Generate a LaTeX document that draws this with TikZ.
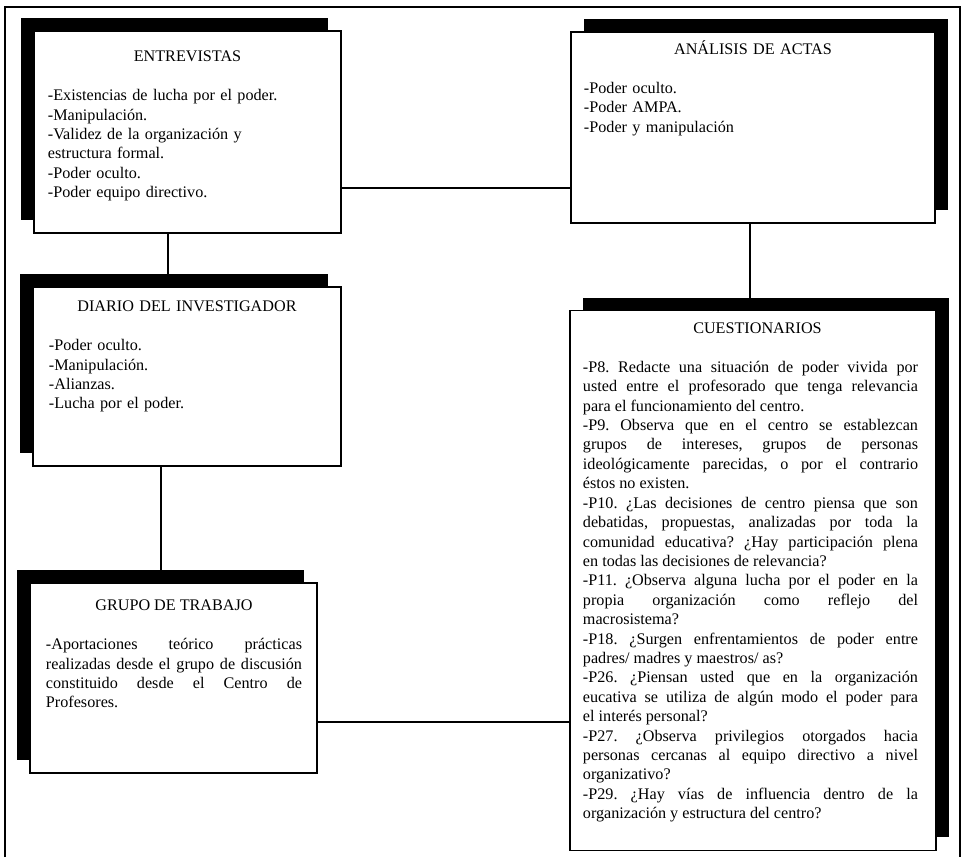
\documentclass[tikz,border=0pt]{standalone}
\usepackage{fontspec}
\setmainfont{Liberation Serif}
\usetikzlibrary{shadows}
\setlength{\parindent}{0pt}
\setlength{\parskip}{0pt}
\hyphenpenalty=10000
\exhyphenpenalty=10000
\frenchspacing

\tikzset{
  box/.style={draw, fill=white, line width=0.8pt, inner sep=0pt, outer sep=0pt},
  shadowleft/.style={general shadow={fill=black, shadow xshift=-0.325cm, shadow yshift=0.325cm}},
  shadowright/.style={general shadow={fill=black, shadow xshift=0.325cm, shadow yshift=0.325cm}},
  txt/.style={anchor=north, inner sep=0pt, font=\fontsize{11.5}{13.8}\selectfont},
  link/.style={line width=1pt}
}

\begin{document}
\begin{tikzpicture}[x=0.025cm, y=-0.025cm]
  \useasboundingbox (0,0) rectangle (962,857);
  \draw[line width=1pt] (5,857) -- (5,7) -- (960,7) -- (960,857);

  \node[box, shadowleft, minimum width=7.675cm, minimum height=5.05cm] (entrev) at (187.5,132) {};
  \node[box, shadowright, minimum width=9.1cm, minimum height=4.775cm] (actas) at (753,127.5) {};
  \node[box, shadowleft, minimum width=7.7cm, minimum height=4.475cm] (diario) at (187,376.5) {};
  \node[box, shadowleft, minimum width=7.175cm, minimum height=4.75cm] (grupo) at (173.5,678) {};
  \node[box, shadowright, minimum width=9.15cm, minimum height=13.475cm] (cuest) at (753,580.5) {};

  \node[txt, align=left, text width=6.975cm] (entrev-txt) at (187.5,44.8) {%
    {\centering\rule{0pt}{12pt}ENTREVISTAS\par}\vspace{\baselineskip}
    -Existencias de lucha por el poder.\\
    -Manipulación.\\
    -Validez de la organización y\\
    estructura formal.\\
    -Poder oculto.\\
    -Poder equipo directivo.};

  \node[txt, align=left, text width=8.45cm] (actas-txt) at (753,37.4) {%
    {\centering\rule{0pt}{12pt}ANÁLISIS DE ACTAS\par}\vspace{\baselineskip}
    -Poder oculto.\\
    -Poder AMPA.\\
    -Poder y manipulación};

  \node[txt, align=left, text width=6.9cm] (diario-txt) at (187,294.8) {%
    {\centering\rule{0pt}{12pt}DIARIO DEL INVESTIGADOR\par}\vspace{\baselineskip}
    -Poder oculto.\\
    -Manipulación.\\
    -Alianzas.\\
    -Lucha por el poder.};

  \node[txt, align=justify, text width=6.4cm] (grupo-txt) at (174,593.8) {%
    {\centering\rule{0pt}{12pt}GRUPO DE TRABAJO\par}\vspace{\baselineskip}
    -Aportaciones teórico prácticas\linebreak
    realizadas desde el grupo de discusión\linebreak
    constituido desde el Centro de\linebreak
    Profesores.};

  \node[txt, align=justify, text width=8.375cm] (cuest-txt) at (750.5,316.4) {%
    {\centering\hspace*{0.35cm}\rule{0pt}{12pt}CUESTIONARIOS\par}\vspace{\baselineskip}
    -P8. Redacte una situación de poder vivida por\linebreak
    usted entre el profesorado que tenga relevancia\linebreak
    para el funcionamiento del centro.\par
    -P9. Observa que en el centro se establezcan\linebreak
    grupos de intereses, grupos de personas\linebreak
    ideológicamente parecidas, o por el contrario\linebreak
    éstos no existen.\par
    -P10. ¿Las decisiones de centro piensa que son\linebreak
    debatidas, propuestas, analizadas por toda la\linebreak
    comunidad educativa? ¿Hay participación plena\linebreak
    en todas las decisiones de relevancia?\par
    -P11. ¿Observa alguna lucha por el poder en la\linebreak
    propia organización como reflejo del\linebreak
    macrosistema?\par
    -P18. ¿Surgen enfrentamientos de poder entre\linebreak
    padres/ madres y maestros/ as?\par
    -P26. ¿Piensan usted que en la organización\linebreak
    eucativa se utiliza de algún modo el poder para\linebreak
    el interés personal?\par
    -P27. ¿Observa privilegios otorgados hacia\linebreak
    personas cercanas al equipo directivo a nivel\linebreak
    organizativo?\par
    -P29. ¿Hay vías de influencia dentro de la\linebreak
    organización y estructura del centro?};

  \coordinate (entrev-r) at ([yshift=-1.4cm]entrev.east);
  \coordinate (entrev-b) at ([xshift=-0.4875cm]entrev.south);
  \coordinate (actas-b) at ([xshift=-0.075cm]actas.south);
  \coordinate (diario-b) at ([xshift=-0.65cm]diario.south);
  \coordinate (grupo-r) at ([yshift=-1.1cm]grupo.east);

  \draw[link] (entrev-r) -- (entrev-r -| actas.west);
  \draw[link] (actas-b) -- (actas-b |- cuest.north);
  \draw[link] (entrev-b) -- (entrev-b |- diario.north);
  \draw[link] (diario-b) -- (diario-b |- grupo.north);
  \draw[link] (grupo-r) -- (grupo-r -| cuest.west);

\end{tikzpicture}
\end{document}
